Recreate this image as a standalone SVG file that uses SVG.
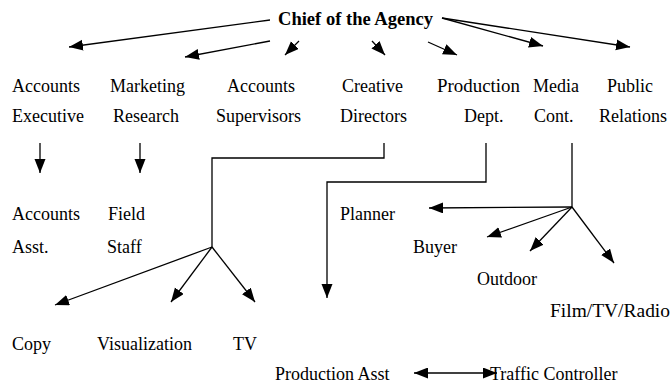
<svg xmlns="http://www.w3.org/2000/svg" width="671" height="385" viewBox="0 0 671 385">
<style>
text{font-family:"Liberation Serif","Times New Roman",serif;font-size:18px;fill:#000}
.t{font-weight:bold}
.c{fill:none;stroke:#000;stroke-width:1.3}
.a{marker-end:url(#ah)}
</style>
<defs>
<marker id="ah" markerUnits="userSpaceOnUse" markerWidth="15" markerHeight="12" refX="14" refY="5.5" orient="auto"><path d="M0,0 L14,5.5 L0,11 z" fill="#000"/></marker>
<marker id="as" markerUnits="userSpaceOnUse" markerWidth="15" markerHeight="12" refX="0" refY="5.5" orient="auto"><path d="M14,0 L0,5.5 L14,11 z" fill="#000"/></marker>
</defs>
<rect width="671" height="385" fill="#fff"/>
<g id="connectors">
<path class="c a" d="M270,20 L69,47"/>
<path class="c a" d="M270,41 L185,57"/>
<path class="c a" d="M299,41 L285,55"/>
<path class="c a" d="M372,41 L385,55"/>
<path class="c a" d="M428,42 L457,55"/>
<path class="c a" d="M442,18 L543,46"/>
<path class="c a" d="M442,18 L630,47"/>
<path class="c a" d="M40,143 L40,173"/>
<path class="c a" d="M140,143 L140,173"/>
<path class="c" d="M384,143 L384,158 L212,158 L212,247"/>
<path class="c a" d="M212,247 L55,305"/>
<path class="c a" d="M212,247 L171,302"/>
<path class="c a" d="M212,247 L255,302"/>
<path class="c a" d="M486,143 L486,182 L327,182 L327,298"/>
<path class="c" d="M572,143 L572,207"/>
<path class="c a" d="M572,207 L429,208"/>
<path class="c a" d="M572,207 L487,237"/>
<path class="c a" d="M572,207 L530,251"/>
<path class="c a" d="M572,207 L614,263"/>
<path class="c" d="M414,373 L497,373" marker-start="url(#as)" marker-end="url(#ah)"/>
</g>
<g id="chief"><text class="t" x="278" y="25" textLength="155" lengthAdjust="spacingAndGlyphs">Chief of the Agency</text></g>
<g id="accounts-executive"><text x="12" y="92">Accounts</text><text x="12" y="122">Executive</text></g>
<g id="marketing-research"><text x="110" y="92">Marketing</text><text x="113" y="122">Research</text></g>
<g id="accounts-supervisors"><text x="227" y="92">Accounts</text><text x="216" y="122">Supervisors</text></g>
<g id="creative-directors"><text x="342" y="92">Creative</text><text x="340" y="122">Directors</text></g>
<g id="production-dept"><text x="437" y="92" textLength="83" lengthAdjust="spacingAndGlyphs">Production</text><text x="464" y="122">Dept.</text></g>
<g id="media-cont"><text x="533" y="92">Media</text><text x="534" y="122">Cont.</text></g>
<g id="public-relations"><text x="607" y="92">Public</text><text x="599" y="122">Relations</text></g>
<g id="accounts-asst"><text x="12" y="220">Accounts</text><text x="12" y="253">Asst.</text></g>
<g id="field-staff"><text x="108" y="220">Field</text><text x="107" y="253">Staff</text></g>
<g id="planner"><text x="340" y="220">Planner</text></g>
<g id="buyer"><text x="413" y="253">Buyer</text></g>
<g id="outdoor"><text x="477" y="285">Outdoor</text></g>
<g id="film-tv-radio"><text x="550" y="317" textLength="120" lengthAdjust="spacingAndGlyphs">Film/TV/Radio</text></g>
<g id="copy"><text x="12" y="350">Copy</text></g>
<g id="visualization"><text x="97" y="350">Visualization</text></g>
<g id="tv"><text x="233" y="350">TV</text></g>
<g id="production-asst"><text x="275" y="380">Production Asst</text></g>
<g id="traffic-controller"><text x="490" y="380">Traffic Controller</text></g>
</svg>
